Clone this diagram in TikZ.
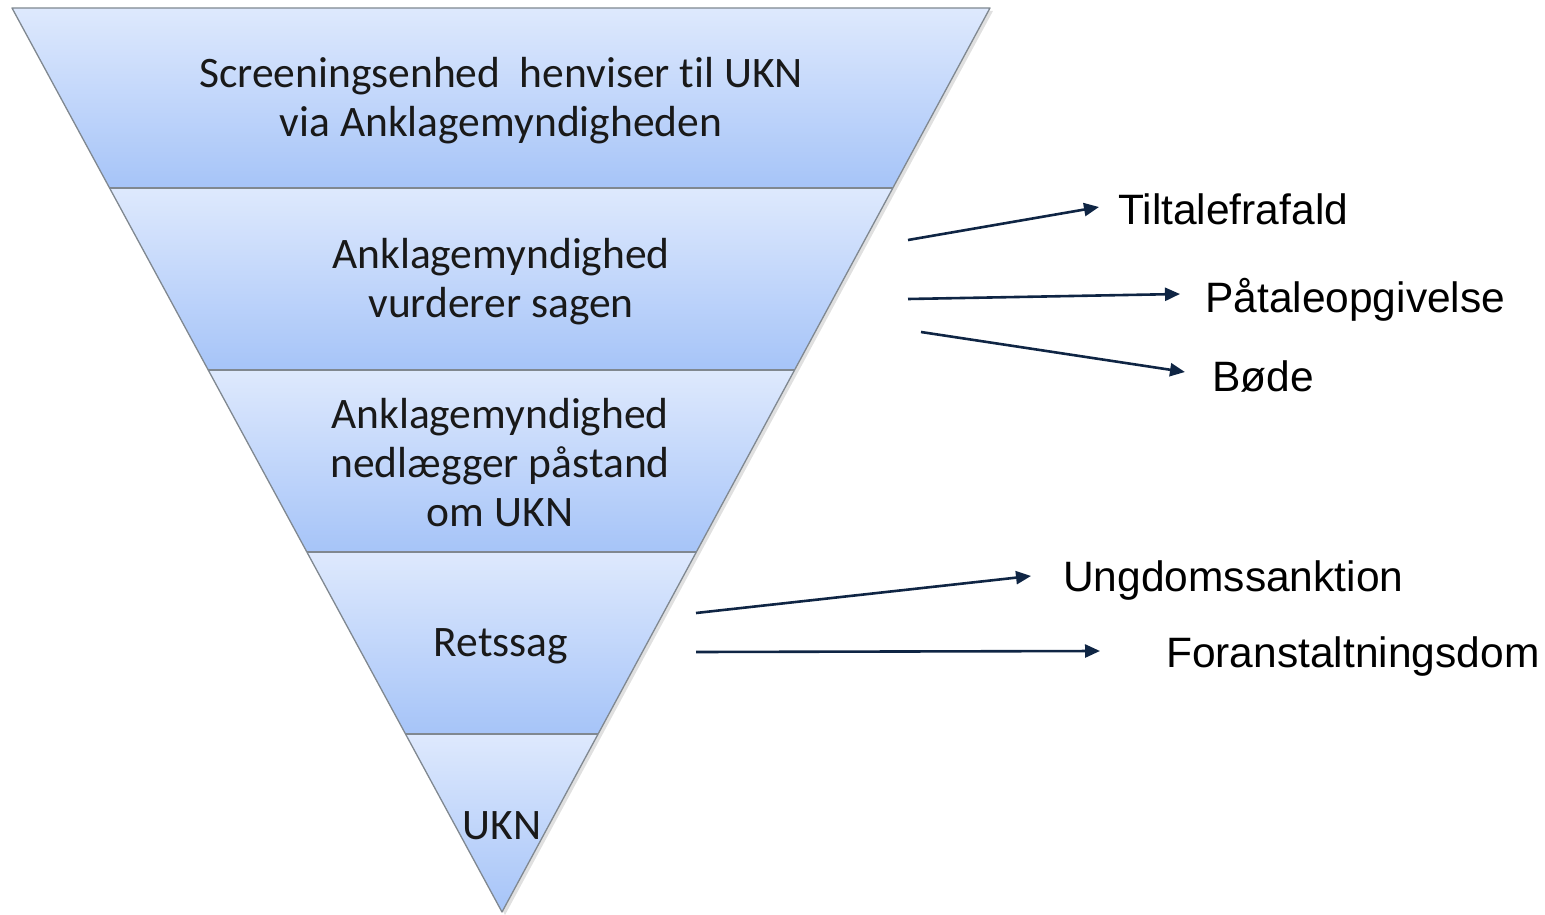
\documentclass[tikz,border=0pt]{standalone}
\usepackage{fontspec}
\setmainfont{Carlito}[Ligatures=NoCommon]
\newfontfamily\arialfont{Liberation Sans}
\usetikzlibrary{arrows.meta}
\definecolor{bandtop}{HTML}{DEE9FD}
\definecolor{bandbot}{HTML}{A6C4F8}
\definecolor{edgegray}{HTML}{808890}
\definecolor{navy}{HTML}{0F2544}
\tikzset{
  band/.style={top color=bandtop, bottom color=bandbot},
  bandedge/.style={draw=edgegray, line width=1.3pt, line join=round},
  bandtext/.style={font=\fontsize{43.5}{49}\selectfont, align=center, text=black!90},
  outtext/.style={font=\arialfont\fontsize{42.5}{48}\selectfont, anchor=west, text=black, inner sep=0pt},
  outarrow/.style={draw=navy, line width=2.6pt, -{Triangle[length=15pt,width=13pt]}}
}
\begin{document}
\begin{tikzpicture}[x=1pt,y=-1pt]
\useasboundingbox (0,0) rectangle (1545,915);
\coordinate (TL) at (12,8);
\coordinate (TR) at (990,8);
\coordinate (A) at (502,912);
\coordinate (L1) at (109.6,188); \coordinate (R1) at (892.8,188);
\coordinate (L2) at (208.2,370); \coordinate (R2) at (794.6,370);
\coordinate (L3) at (306.9,552); \coordinate (R3) at (696.3,552);
\coordinate (L4) at (405.5,734); \coordinate (R4) at (598.1,734);
% soft shadow
\fill[black!12] (14,11) -- (993,11) -- (505,915) -- cycle;
\shade[band] (TL) -- (TR) -- (R1) -- (L1) -- cycle;
\shade[band] (L1) -- (R1) -- (R2) -- (L2) -- cycle;
\shade[band] (L2) -- (R2) -- (R3) -- (L3) -- cycle;
\shade[band] (L3) -- (R3) -- (R4) -- (L4) -- cycle;
\shade[band] (L4) -- (R4) -- (A) -- cycle;
\draw[bandedge] (TL) -- (TR) -- (A) -- cycle;
\draw[bandedge] (L1) -- (R1);
\draw[bandedge] (L2) -- (R2);
\draw[bandedge] (L3) -- (R3);
\draw[bandedge] (L4) -- (R4);
% band texts
\node[bandtext] (b1) at (501,101) {Screeningsenhed\ \ henviser til UKN\\via Anklagemyndigheden};
\node[bandtext] (b2) at (501,282) {Anklagemyndighed\\vurderer sagen};
\node[bandtext] (b3) at (500,463) {Anklagemyndighed\\nedlægger påstand\\om UKN};
\node[bandtext] (b4) at (501,646) {Retssag};
\node[bandtext] (b5) at (502,826) {UKN};
% outcome labels
\node[outtext] (o1) at (1118,209) {Tiltalefrafald};
\node[outtext] (o2) at (1205,300) {Påtaleopgivelse};
\node[outtext] (o3) at (1212,376) {Bøde};
\node[outtext] (o4) at (1063,581) {Ungdomssanktion};
\node[outtext] (o5) at (1166,657) {Foranstaltningsdom};
% arrow ends
\coordinate (s1) at (908,240);
\coordinate (s2) at (908,299);
\coordinate (s3) at (921,332);
\coordinate (s4) at (696,613);
\coordinate (s5) at (696,652);
\coordinate (e1) at (1099,207);
\coordinate (e2) at (1180,294);
\coordinate (e3) at (1185,372);
\coordinate (e4) at (1031,576);
\coordinate (e5) at (1100,651);
\draw[outarrow] (s1) -- (e1);
\draw[outarrow] (s2) -- (e2);
\draw[outarrow] (s3) -- (e3);
\draw[outarrow] (s4) -- (e4);
\draw[outarrow] (s5) -- (e5);
\end{tikzpicture}
\end{document}
